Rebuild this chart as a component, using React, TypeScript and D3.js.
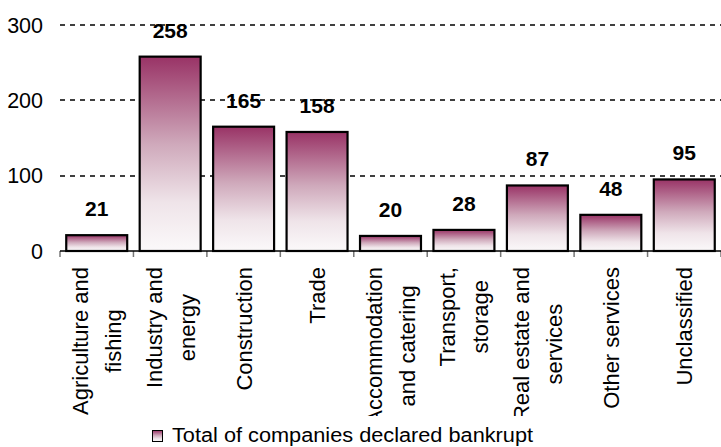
import React, { useRef, useEffect } from 'react';
import * as d3 from 'd3';

// Companies declared bankrupt by sector
const categories: string[][] = [
  ['Agriculture and', 'fishing'],
  ['Industry and', 'energy'],
  ['Construction'],
  ['Trade'],
  ['Accommodation', 'and catering'],
  ['Transport,', 'storage'],
  ['Real estate and', 'services'],
  ['Other services'],
  ['Unclassified'],
];
const values = [21, 258, 165, 158, 20, 28, 87, 48, 95];
const yTicks = [0, 100, 200, 300];
const gridTicks = [100, 200, 300];
const legendLabel = 'Total of companies declared bankrupt';

const WIDTH = 721;
const HEIGHT = 447;
const FONT = '"Liberation Sans", Arial, sans-serif';

const App: React.FC = () => {
  const svgRef = useRef<SVGSVGElement | null>(null);

  useEffect(() => {
    if (!svgRef.current) return;
    const svg = d3.select(svgRef.current);
    svg.selectAll('*').remove();

    const left = 60;
    const right = 721;
    const zeroY = 251;
    const topY = 25;

    const keys = categories.map((c) => c.join(' '));

    const x = d3.scaleBand<string>()
      .domain(keys)
      .range([left, right])
      .paddingInner(0.17)
      .paddingOuter(0.085);

    const y = d3.scaleLinear().domain([0, 300]).range([zeroY, topY]);

    const defs = svg.append('defs');
    const grad = defs.append('linearGradient')
      .attr('id', 'barFill')
      .attr('x1', 0).attr('y1', 0)
      .attr('x2', 0).attr('y2', 1);
    grad.append('stop').attr('offset', '0%').attr('stop-color', '#993366');
    grad.append('stop').attr('offset', '45%').attr('stop-color', '#cfa9bb');
    grad.append('stop').attr('offset', '75%').attr('stop-color', '#efe4e9');
    grad.append('stop').attr('offset', '100%').attr('stop-color', '#fbf9fa');

    defs.append('clipPath')
      .attr('id', 'labelClip')
      .append('rect')
      .attr('x', 0).attr('y', 0)
      .attr('width', WIDTH).attr('height', 416);

    // dashed gridlines
    svg.append('g')
      .selectAll('line')
      .data(gridTicks)
      .enter()
      .append('line')
      .attr('x1', left)
      .attr('x2', right)
      .attr('y1', (d) => Math.round(y(d)))
      .attr('y2', (d) => Math.round(y(d)))
      .attr('stroke', '#000')
      .attr('stroke-width', 1.3)
      .attr('stroke-dasharray', '5,5');

    // y tick labels
    svg.append('g')
      .selectAll('text')
      .data(yTicks)
      .enter()
      .append('text')
      .attr('x', 43)
      .attr('y', (d) => y(d))
      .attr('dy', '0.36em')
      .attr('text-anchor', 'end')
      .attr('font-family', FONT)
      .attr('font-size', 21.5)
      .attr('fill', '#000')
      .text((d) => String(d));

    // bars
    svg.append('g')
      .selectAll('rect')
      .data(values)
      .enter()
      .append('rect')
      .attr('x', (_, i) => x(keys[i])!)
      .attr('y', (d) => y(d))
      .attr('width', x.bandwidth())
      .attr('height', (d) => zeroY - y(d))
      .attr('fill', 'url(#barFill)')
      .attr('stroke', '#000')
      .attr('stroke-width', 2.2);

    // value labels
    svg.append('g')
      .selectAll('text')
      .data(values)
      .enter()
      .append('text')
      .attr('x', (_, i) => x(keys[i])! + x.bandwidth() / 2)
      .attr('y', (d) => y(d) - 19)
      .attr('text-anchor', 'middle')
      .attr('font-family', FONT)
      .attr('font-size', 21)
      .attr('font-weight', 'bold')
      .attr('fill', '#000')
      .text((d) => String(d));

    // x axis line and tick marks
    const step = x.step();
    const bounds = keys.map((k) => x(k)! - (step * 0.17) / 2);
    bounds.push(right);
    svg.append('g')
      .selectAll('line')
      .data(bounds)
      .enter()
      .append('line')
      .attr('x1', (d) => d)
      .attr('x2', (d) => d)
      .attr('y1', zeroY)
      .attr('y2', zeroY + 6)
      .attr('stroke', '#777')
      .attr('stroke-width', 1.5);

    svg.append('line')
      .attr('x1', left)
      .attr('x2', right)
      .attr('y1', zeroY)
      .attr('y2', zeroY)
      .attr('stroke', '#000')
      .attr('stroke-width', 1.5);

    // rotated category labels
    const labelTop = 267;
    const lineGap = 33;
    const labelLayer = svg.append('g').attr('clip-path', 'url(#labelClip)');
    categories.forEach((lines, i) => {
      const cx = x(keys[i])! + x.bandwidth() / 2;
      const g = labelLayer.append('g')
        .attr('transform', `translate(${cx},${labelTop}) rotate(-90)`);
      const texts = lines.map((line, j) =>
        g.append('text')
          .attr('y', (j - (lines.length - 1) / 2) * lineGap)
          .attr('dy', '0.36em')
          .attr('text-anchor', 'middle')
          .attr('font-family', FONT)
          .attr('font-size', 22)
          .attr('fill', '#000')
          .text(line)
      );
      const maxLen = d3.max(texts, (t) => (t.node() as SVGTextElement).getComputedTextLength()) || 0;
      texts.forEach((t) => t.attr('x', -maxLen / 2));
    });

    // legend
    const legend = svg.append('g');
    legend.append('rect')
      .attr('x', 152.5)
      .attr('y', 430.5)
      .attr('width', 10)
      .attr('height', 11)
      .attr('fill', 'url(#barFill)')
      .attr('stroke', '#000')
      .attr('stroke-width', 1);
    legend.append('text')
      .attr('x', 172)
      .attr('y', 441.5)
      .attr('font-family', FONT)
      .attr('font-size', 20)
      .attr('fill', '#000')
      .attr('textLength', 361)
      .attr('lengthAdjust', 'spacingAndGlyphs')
      .text(legendLabel);
  }, []);

  return (
    <svg
      ref={svgRef}
      width={WIDTH}
      height={HEIGHT}
      style={{ position: 'absolute', left: 0, top: 0, background: '#fff' }}
    />
  );
};

export default App;
